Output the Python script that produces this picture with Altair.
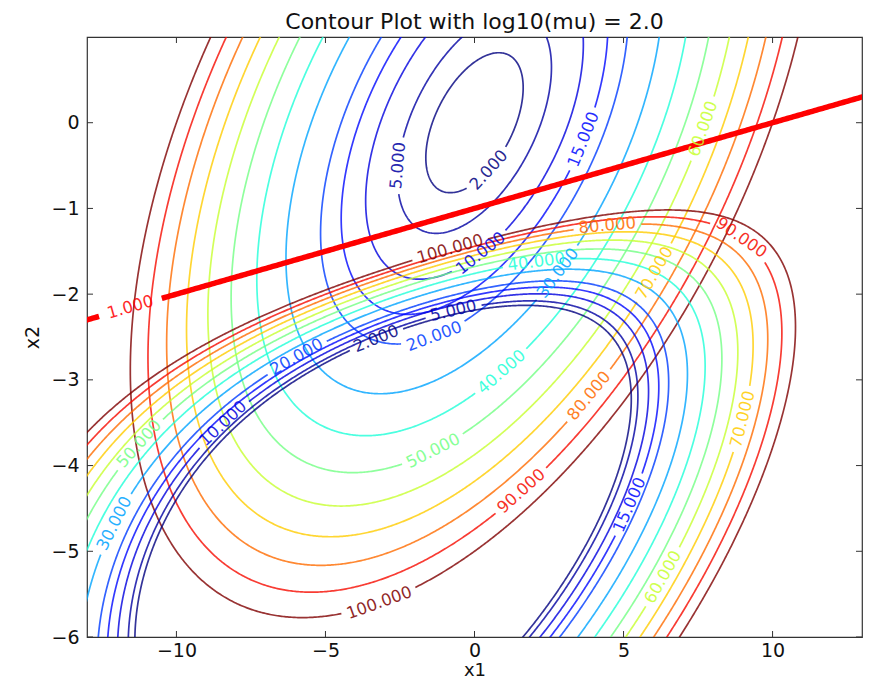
import numpy as np
import pandas as pd
import altair as alt

alt.data_transformers.disable_max_rows()

# ---------------- data ----------------
TITLE = "Contour Plot with log10(mu) = 2.0"
LEVELS = [2, 5, 10, 15, 20, 30, 40, 50, 60, 70, 80, 90, 100]

# objective f(x) = Q11*x1^2 + 2*Q12*x1*x2 + Q22*x2^2
Q11, Q12, Q22 = 1.0, -1.0, 4.0
# constraint c(x) = A1*x1 + A2*x2, drawn at level C_LEVEL; log-barrier weight MU
A1, A2 = 0.1, -1.0
C_LEVEL = 1.0
MU = 100.0

X_DOMAIN = [-13, 13]
Y_DOMAIN = [-6, 1]
X_TICKS = [-10, -5, 0, 5, 10]
Y_TICKS = [-6, -5, -4, -3, -2, -1, 0]

# approximate label positions (snapped onto their contour)
LABEL_F_LEVEL = [2, 5, 10, 15, 20, 30, 40, 50, 60, 70, 80, 90, 100]
LABEL_F_X1 = [0.44, -2.58, 0.17, 3.62, -1.41, 2.85, 0.84, -1.41, 7.65, 5.97, 3.79, 1.58, -3.19]
LABEL_F_X2 = [-0.54, -0.50, -1.51, -0.19, -2.44, -1.77, -2.88, -3.81, -0.07, -1.74, -3.17, -4.30, -5.60]
LABEL_B_LEVEL = [2, 5, 10, 15, 20, 30, 40, 50, 60, 70, 80, 90, 100]
LABEL_B_X1 = [-3.29, -0.74, -8.46, 5.20, -5.97, -12.10, 2.08, -11.30, 6.31, 9.00, 4.46, 9.00, -0.84]
LABEL_B_X2 = [-2.53, -2.15, -3.50, -4.46, -2.73, -4.67, -1.63, -3.73, -5.30, -3.46, -1.20, -1.32, -1.45]
LABEL_C_X1 = [-11.56]
LABEL_C_X2 = [-2.16]

# ---------------- styles ----------------
COLORS = ["#000080", "#0000a3", "#0000de", "#0008ff", "#003cff", "#00a4ff", "#1fffd8",
          "#73ff84", "#c7ff30", "#ffcc00", "#ff6c00", "#f60b00", "#800000"]
W, H = 775, 600
SX = W / (X_DOMAIN[1] - X_DOMAIN[0])
SY = H / (Y_DOMAIN[1] - Y_DOMAIN[0])
FS = 16.5
FONT = "DejaVu Sans"


def to_px(x1, x2):
    return (np.asarray(x1) - X_DOMAIN[0]) * SX, (Y_DOMAIN[1] - np.asarray(x2)) * SY


def f_val(x1, x2):
    return Q11 * x1 ** 2 + 2 * Q12 * x1 * x2 + Q22 * x2 ** 2


def barrier_val(x1, x2):
    s = A1 * x1 + A2 * x2 - C_LEVEL
    with np.errstate(all="ignore"):
        v = f_val(x1, x2) - MU * np.log(np.where(s > 0, s, 1.0))
    return np.where(s > 0, v, np.inf)


def level_curve(func, cx, cy, level, n=7000):
    th = np.linspace(0, 2 * np.pi, n, endpoint=False)
    ux, uy = np.cos(th) / SX, np.sin(th) / SY
    lo, hi = np.zeros(n), np.full(n, 6000.0)
    for _ in range(48):
        mid = 0.5 * (lo + hi)
        above = func(cx + mid * ux, cy + mid * uy) >= level
        hi = np.where(above, mid, hi)
        lo = np.where(above, lo, mid)
    r = 0.5 * (lo + hi)
    return cx + r * ux, cy + r * uy


def text_width(txt):
    return FS * sum(0.318 if ch == "." else 0.636 for ch in txt)


def snap_label(x1, x2, lx, ly, closed=True):
    px, py = to_px(x1, x2)
    lpx, lpy = to_px(lx, ly)
    k = int(np.argmin((px - lpx) ** 2 + (py - lpy) ** 2))
    n = len(px)
    if closed:
        a, b = (k - 4) % n, (k + 4) % n
    else:
        a, b = max(k - 4, 0), min(k + 4, n - 1)
    ang = np.degrees(np.arctan2(py[b] - py[a], px[b] - px[a]))
    if ang > 90:
        ang -= 180
    if ang < -90:
        ang += 180
    return px[k], py[k], x1[k], x2[k], ang % 360


def segments(x1, x2, gaps, closed=True, pad=20):
    px, py = to_px(x1, x2)
    keep = (px > -pad) & (px < W + pad) & (py > -pad) & (py < H + pad)
    for gx, gy, rad in gaps:
        keep &= (px - gx) ** 2 + (py - gy) ** 2 > rad ** 2
    idx = np.arange(len(px))
    if closed:
        if keep.all():
            idx = np.append(idx, 0)
            keep = np.append(keep, True)
        else:
            s = int(np.argmin(keep))
            idx = np.roll(idx, -s)
            keep = np.roll(keep, -s)
    out, cur = [], []
    for j, kp in zip(idx, keep):
        if kp:
            cur.append(j)
        elif cur:
            out.append(cur)
            cur = []
    if cur:
        out.append(cur)
    res = []
    for run in out:
        if len(run) < 2:
            continue
        sel = [run[0]]
        for j in run[1:-1]:
            if np.hypot(px[j] - px[sel[-1]], py[j] - py[sel[-1]]) >= 1.2:
                sel.append(j)
        sel.append(run[-1])
        res.append(sel)
    return res


# barrier minimiser (any point with value below the lowest level serves as ray centre)
gx, gy = np.meshgrid(np.linspace(-15, 15, 301), np.linspace(-12, 2, 141))
gv = barrier_val(gx, gy)
kmin = np.unravel_index(np.argmin(gv), gv.shape)
B_CENTER = (gx[kmin], gy[kmin])

line_rows, label_rows = [], []
seg_id = 0
families = [
    (f_val, (0.0, 0.0), LABEL_F_LEVEL, LABEL_F_X1, LABEL_F_X2),
    (barrier_val, B_CENTER, LABEL_B_LEVEL, LABEL_B_X1, LABEL_B_X2),
]
for func, (cx, cy), llev, lx1, lx2 in families:
    for lev in LEVELS:
        x1, x2 = level_curve(func, cx, cy, lev)
        gaps = []
        for L, a, b in zip(llev, lx1, lx2):
            if L != lev:
                continue
            txt = f"{lev:.3f}"
            cpx, cpy, sx1, sx2, ang = snap_label(x1, x2, a, b)
            gaps.append((cpx, cpy, text_width(txt) / 2 + 5))
            label_rows.append(dict(x1=sx1, x2=sx2, text=txt, level=lev, ang=ang))
        for seg in segments(x1, x2, gaps):
            for i, j in enumerate(seg):
                line_rows.append(dict(seg=seg_id, i=i, x1=x1[j], x2=x2[j], level=lev))
            seg_id += 1

lines_df = pd.DataFrame(line_rows)
labels_df = pd.DataFrame(label_rows)

# constraint line c(x) = C_LEVEL
cx1 = np.linspace(X_DOMAIN[0] - 1, X_DOMAIN[1] + 1, 400)
cx2 = (C_LEVEL - A1 * cx1) / A2
red_rows, red_label_rows = [], []
ctxt = f"{C_LEVEL:.3f}"
cgaps = []
for a, b in zip(LABEL_C_X1, LABEL_C_X2):
    cpx, cpy, sx1, sx2, ang = snap_label(cx1, cx2, a, b, closed=False)
    cgaps.append((cpx, cpy, text_width(ctxt) / 2 + 9))
    red_label_rows.append(dict(x1=sx1, x2=sx2, text=ctxt, ang=ang))
for k, seg in enumerate(segments(cx1, cx2, cgaps, closed=False)):
    for i, j in enumerate(seg):
        red_rows.append(dict(seg=k, i=i, x1=cx1[j], x2=cx2[j]))
red_df = pd.DataFrame(red_rows)
red_label_df = pd.DataFrame(red_label_rows)

# ---------------- chart ----------------
x_enc = alt.X("x1:Q", scale=alt.Scale(domain=X_DOMAIN, nice=False, zero=False),
              axis=alt.Axis(values=X_TICKS, format="d", title="x1", labelPadding=4, titlePadding=1,
                            titleFontSize=18))
y_enc = alt.Y("x2:Q", scale=alt.Scale(domain=Y_DOMAIN, nice=False, zero=False),
              axis=alt.Axis(values=Y_TICKS, format="d", title="x2", labelPadding=8, titlePadding=8))
color_enc = alt.Color("level:O", scale=alt.Scale(domain=LEVELS, range=COLORS), legend=None)

lines = alt.Chart(lines_df).mark_line(clip=True, strokeWidth=1.7, strokeOpacity=0.8).encode(
    x=x_enc, y=y_enc, color=color_enc, detail="seg:N", order="i:Q")
red = alt.Chart(red_df).mark_line(clip=True, strokeWidth=5.5, color="#ff0000").encode(
    x=x_enc, y=y_enc, detail="seg:N", order="i:Q")
labels = alt.Chart(labels_df).mark_text(font=FONT, fontSize=FS, opacity=0.85).encode(
    x=x_enc, y=y_enc, text="text:N", color=color_enc, angle=alt.Angle("ang:Q", scale=None))
red_labels = alt.Chart(red_label_df).mark_text(font=FONT, fontSize=FS, color="#ff0000", opacity=0.85).encode(
    x=x_enc, y=y_enc, text="text:N", angle=alt.Angle("ang:Q", scale=None))

xt_df = pd.DataFrame({"x1": X_TICKS})
yt_df = pd.DataFrame({"x2": Y_TICKS})
tick_style = dict(color="#333333", strokeWidth=1)
xt_bottom = alt.Chart(xt_df).mark_rule(**tick_style).encode(x=x_enc, y=alt.value(H), y2=alt.value(H - 6))
xt_top = alt.Chart(xt_df).mark_rule(**tick_style).encode(x=x_enc, y=alt.value(0), y2=alt.value(6))
yt_left = alt.Chart(yt_df).mark_rule(**tick_style).encode(y=y_enc, x=alt.value(0), x2=alt.value(6))
yt_right = alt.Chart(yt_df).mark_rule(**tick_style).encode(y=y_enc, x=alt.value(W), x2=alt.value(W - 6))

chart = alt.layer(lines, red, labels, red_labels, xt_bottom, xt_top, yt_left, yt_right).properties(
    width=W, height=H,
    title=alt.TitleParams(TITLE, font=FONT, fontSize=22, fontWeight="normal", color="#111111", offset=3),
    padding={"left": 79, "top": 29, "right": 6, "bottom": 43},
    autosize=alt.AutoSizeParams(type="none"),
).configure_axis(
    grid=False, ticks=False, domain=False,
    labelFont=FONT, labelFontSize=19, labelColor="#111111",
    titleFont=FONT, titleFontSize=19, titleFontWeight="normal", titleColor="#111111",
).configure_view(stroke="#333333", strokeWidth=1.2)

chart.save("out.html", embed_options={"renderer": "svg", "actions": False})
